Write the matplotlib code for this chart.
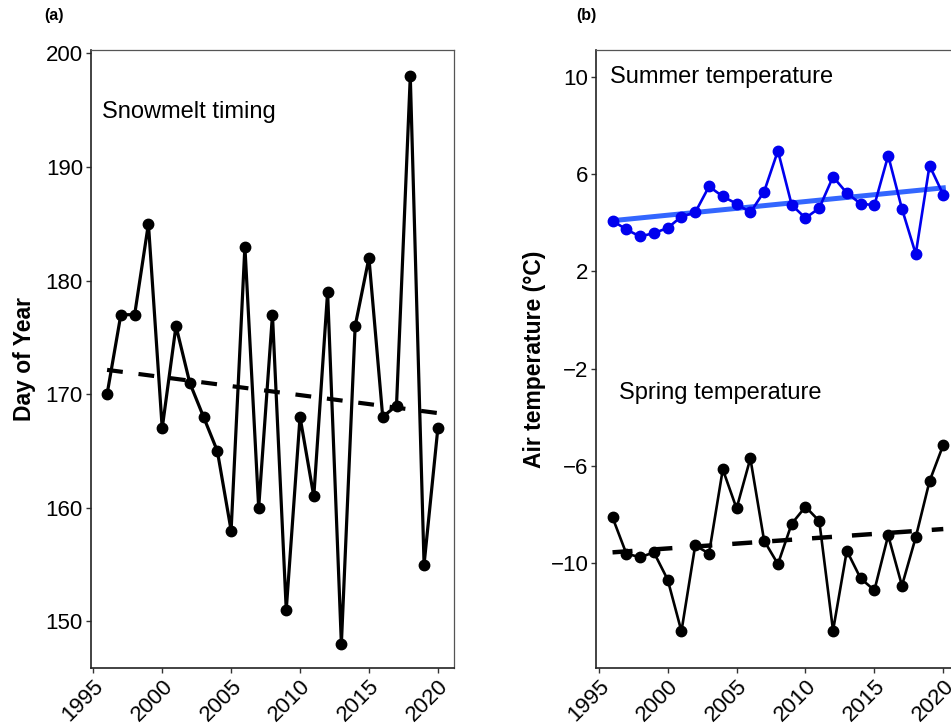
import numpy as np
import matplotlib
matplotlib.use("Agg")
import matplotlib.pyplot as plt

plt.rcParams["font.family"] = ["Liberation Sans", "DejaVu Sans"]

years = np.arange(1996, 2021)

snowmelt = [170, 177, 177, 185, 167, 176, 171, 168, 165, 158, 183, 160, 177,
            151, 168, 161, 179, 148, 176, 182, 168, 169, 198, 155, 167]

summer_temp = [4.09, 3.73, 3.44, 3.58, 3.79, 4.26, 4.43, 5.50, 5.09, 4.79, 4.43,
               5.29, 6.97, 4.74, 4.20, 4.61, 5.90, 5.23, 4.79, 4.73, 6.77, 4.58,
               2.72, 6.36, 5.16]

spring_temp = [-8.13, -9.62, -9.77, -9.57, -10.69, -12.82, -9.28, -9.62, -6.15,
               -7.76, -5.70, -9.09, -10.05, -8.39, -7.69, -8.28, -12.79, -9.50,
               -10.64, -11.13, -8.87, -10.94, -8.95, -6.64, -5.14]

x_ticks = [1995, 2000, 2005, 2010, 2015, 2020]
a_yticks = [150, 160, 170, 180, 190, 200]
b_yticks = [-10, -6, -2, 2, 6, 10]


def trend(x, y):
    k, b = np.polyfit(x, y, 1)
    return k * np.asarray(x) + b


def style_axes(ax):
    for side in ["top", "right"]:
        ax.spines[side].set_color("#555555")
        ax.spines[side].set_linewidth(0.9)
    for side in ["left", "bottom"]:
        ax.spines[side].set_color("#222222")
        ax.spines[side].set_linewidth(1.2)
    ax.tick_params(labelsize=16, length=3.5, width=1, color="#333333", pad=2)
    ax.set_xticks(x_ticks)
    ax.set_xlim(1994.8, 2021.2)
    for lab in ax.get_xticklabels():
        lab.set_rotation(45)
        lab.set_ha("right")
        lab.set_va("top")
        lab.set_rotation_mode("anchor")


fig = plt.figure(figsize=(9.51, 7.27), dpi=100)

# panel (a)
ax1 = fig.add_axes([0.0952, 0.0812, 0.3826, 0.8500])
ax1.plot(years, trend(years, snowmelt), color="black", linewidth=3,
         linestyle=(0, (3.8, 3.8)), zorder=2)
ax1.plot(years, snowmelt, color="black", linewidth=2.3, marker="o",
         markersize=7.5, zorder=3)
ax1.set_ylim(145.9, 200.3)
ax1.set_yticks(a_yticks)
ax1.set_ylabel("Day of Year", fontsize=16.5, fontweight="bold", labelpad=7)
ax1.text(1995.63, 194.8, "Snowmelt timing", fontsize=17, ha="left", va="center")
style_axes(ax1)
fig.text(0.047, 0.979, "(a)", fontsize=11.5, fontweight="bold", va="center")

# panel (b)
ax2 = fig.add_axes([0.6267, 0.0812, 0.3826, 0.8500])
ax2.plot(years, trend(years, summer_temp), color="#3366FF", linewidth=3.6,
         zorder=2)
ax2.plot(years, summer_temp, color="#0000EE", linewidth=1.9, marker="o",
         markersize=7.5, zorder=3)
ax2.plot(years, trend(years, spring_temp), color="black", linewidth=3.2,
         linestyle=(0, (4.5, 4.5)), zorder=2)
ax2.plot(years, spring_temp, color="black", linewidth=1.9, marker="o",
         markersize=7.5, zorder=3)
ax2.set_ylim(-14.33, 11.12)
ax2.set_yticks(b_yticks)
ax2.set_ylabel("Air temperature (°C)", fontsize=16.5, fontweight="bold",
               labelpad=3)
ax2.text(1995.8, 10, "Summer temperature", fontsize=17, ha="left", va="center")
ax2.text(1996.5, -3.0, "Spring temperature", fontsize=17, ha="left",
         va="center")
style_axes(ax2)
fig.text(0.606, 0.979, "(b)", fontsize=11.5, fontweight="bold", va="center")

fig.savefig("out.png", dpi=100)
